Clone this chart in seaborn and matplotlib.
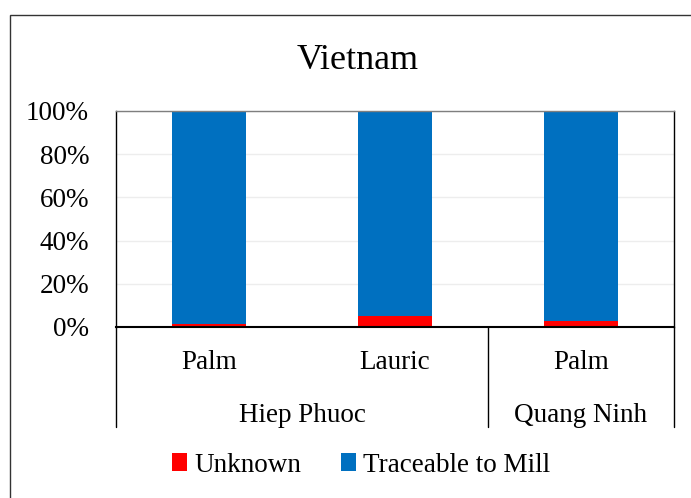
import pandas as pd
import seaborn as sns
import matplotlib.pyplot as plt
from matplotlib.patches import Rectangle

# data (percent)
products = ["Palm", "Lauric", "Palm"]
sites = ["Hiep Phuoc", "Hiep Phuoc", "Quang Ninh"]
unknown = [1.5, 5.3, 3.0]
traceable = [98.5, 94.7, 97.0]
y_ticks = [0, 20, 40, 60, 80, 100]

df = pd.DataFrame({
    "bar": [f"{s}|{p}" for s, p in zip(sites, products)],
    "unknown": unknown,
    "traceable": traceable,
})
df["total"] = df["unknown"] + df["traceable"]

sns.set_theme(style="white")
plt.rcParams["font.family"] = ["Liberation Serif", "DejaVu Serif"]
plt.rcParams["text.color"] = "black"

W, H = 691, 498
fig = plt.figure(figsize=(W / 100, H / 100), dpi=100)
ax = fig.add_axes([116 / W, 1 - 327 / H, 558 / W, 216 / H])

# stacked bars: full height in blue, unknown share in red on top of it
sns.barplot(data=df, x="bar", y="total", color="#0070C0", width=0.4,
            saturation=1, label="Traceable to Mill", linewidth=0, ax=ax)
sns.barplot(data=df, x="bar", y="unknown", color="#FF0000", width=0.4,
            saturation=1, label="Unknown", linewidth=0, ax=ax)
if ax.get_legend() is not None:
    ax.get_legend().remove()

ax.set_xlim(-0.5, 2.5)
ax.set_ylim(0, 100)
ax.set_yticks(y_ticks)
ax.set_yticklabels([f"{v}%" for v in y_ticks], fontsize=19.5)
ax.set_xticks(range(len(products)))
ax.set_xticklabels(products, fontsize=19.5)
ax.tick_params(axis="y", length=0, pad=19.4, labelcolor="black")
ax.tick_params(axis="x", length=0, pad=16.5, labelcolor="black")
ax.set_xlabel("")
ax.set_ylabel("")

ax.yaxis.grid(True, color="#EDEDED", lw=1)
ax.set_axisbelow(True)
for side in ["left", "right"]:
    ax.spines[side].set_color("black")
    ax.spines[side].set_linewidth(1)
ax.spines["top"].set_color("#7F7F7F")
ax.spines["top"].set_linewidth(1)
ax.spines["bottom"].set_color("black")
ax.spines["bottom"].set_linewidth(1.5)

# group labels and separators below the axis
trans = ax.get_xaxis_transform()
drop = -100 / 216
for xv in [-0.5, 1.5, 2.5]:
    ax.plot([xv, xv], [0, drop], color="black", lw=1, transform=trans, clip_on=False)
group_names = ["Hiep Phuoc", "Quang Ninh"]
group_pos = [0.5, 2.0]
for name, xv in zip(group_names, group_pos):
    ax.annotate(name, xy=(xv, 0), xycoords=trans, xytext=(0, -68.4),
                textcoords="offset points", ha="center", va="baseline",
                fontsize=19.5, color="black")

fig.text(357.5 / W, 1 - 69 / H, "Vietnam", ha="center", va="baseline",
         fontsize=26, color="black")

handles, labels = ax.get_legend_handles_labels()
leg = fig.legend(handles[::-1], labels[::-1], loc="center", bbox_to_anchor=(361 / W, 1 - 465 / H),
                 ncol=2, frameon=False, fontsize=19.5, handlelength=0.57, handleheight=0.6,
                 handletextpad=0.27, columnspacing=1.45, borderpad=0)
for t in leg.get_texts():
    t.set_color("black")

# outer chart frame, partly outside the image on the right and bottom
fig.add_artist(Rectangle((10 / W, -0.2), 2, 1 - 15 / H + 0.2, transform=fig.transFigure,
                         fill=False, ec="#333333", lw=1))

fig.savefig("out.png", dpi=100)
